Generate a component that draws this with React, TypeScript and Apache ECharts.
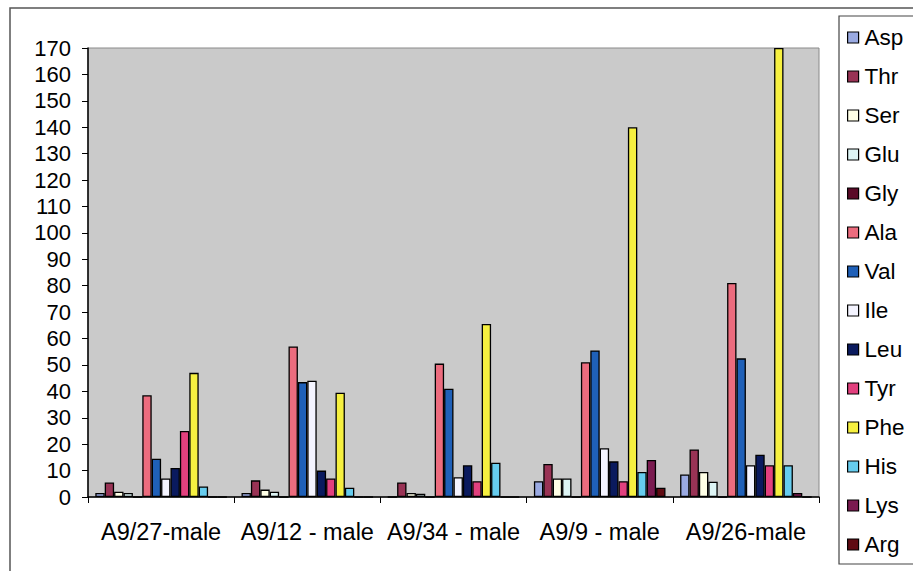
import React, { useEffect, useRef } from "react";
import * as echarts from "echarts";

// Sample groups along the x axis
const categories = ["A9/27-male", "A9/12 - male", "A9/34 - male", "A9/9 - male", "A9/26-male"];

// Amino acid content per sample
const asp = [1.5, 1.5, 0, 6, 8.5];
const thr = [5.5, 6.3, 5.5, 12.5, 18];
const ser = [2, 2.8, 1.5, 7, 9.5];
const glu = [1.5, 2, 1.2, 7, 5.8];
const gly = [0, 0, 0, 0, 0];
const ala = [38.5, 57, 50.5, 51, 81];
const val = [14.5, 43.5, 41, 55.5, 52.5];
const ile = [7, 44, 7.5, 18.5, 12];
const leu = [11, 10, 12, 13.5, 16];
const tyr = [25, 7, 6, 6, 12];
const phe = [47, 39.5, 65.5, 140, 170];
const his = [4, 3.5, 13, 9.5, 12];
const lys = [0, 0, 0, 14, 1.5];
const arg = [0, 0, 0, 3.5, 0];

const seriesNames = ["Asp", "Thr", "Ser", "Glu", "Gly", "Ala", "Val", "Ile", "Leu", "Tyr", "Phe", "His", "Lys", "Arg"];
const seriesValues = [asp, thr, ser, glu, gly, ala, val, ile, leu, tyr, phe, his, lys, arg];
const seriesColors = [
  "#9AAAE2", "#993355", "#FFFFE6", "#DDF4F4", "#5A0A28", "#EC6C7E", "#1F60B8",
  "#F4F4FF", "#0A1A5E", "#E2407E", "#F6F040", "#66CCEE", "#7A1A50", "#600A12",
];

// Value axis ticks
const yMin = 0;
const yMax = 170;
const yStep = 10;

const FONT = "'Liberation Sans', Arial, sans-serif";

export default function App() {
  const ref = useRef<HTMLDivElement>(null);

  useEffect(() => {
    if (!ref.current) return;
    const chart = echarts.init(ref.current, undefined, { renderer: "svg" });

    const series = seriesNames.map((name, i) => ({
      name,
      type: "bar" as const,
      data: seriesValues[i],
      barGap: "0%",
      barCategoryGap: "10%",
      itemStyle: { color: seriesColors[i], borderColor: "#000", borderWidth: 1.3 },
    }));

    chart.setOption({
      animation: false,
      backgroundColor: "#FFFFFF",
      textStyle: { fontFamily: FONT },
      grid: {
        left: 88,
        top: 48,
        right: 94,
        bottom: 74,
        show: true,
        backgroundColor: "#CACACA",
        borderColor: "#8A8A8A",
        borderWidth: 1,
      },
      legend: {
        orient: "vertical",
        left: 847,
        top: 26,
        padding: 0,
        itemWidth: 11,
        itemHeight: 11,
        itemGap: 16,
        icon: "rect",
        itemStyle: { borderColor: "#000", borderWidth: 1.2 },
        textStyle: { fontFamily: FONT, fontSize: 22.5, color: "#000", padding: [0, 0, 0, 1] },
        data: seriesNames,
      },
      xAxis: {
        type: "category",
        data: categories,
        axisLine: { lineStyle: { color: "#000", width: 1.5 } },
        axisTick: { show: true, length: 6, lineStyle: { color: "#000" } },
        axisLabel: { fontFamily: FONT, fontSize: 23.5, color: "#000", margin: 23, interval: 0 },
      },
      yAxis: {
        type: "value",
        min: yMin,
        max: yMax,
        interval: yStep,
        splitLine: { show: false },
        axisLine: { show: true, lineStyle: { color: "#000", width: 1.5 } },
        axisTick: { show: true, length: 6, lineStyle: { color: "#000" } },
        axisLabel: { fontFamily: FONT, fontSize: 22, color: "#000", margin: 17 },
      },
      graphic: [
        {
          type: "rect",
          shape: { x: 10, y: 8, width: 930, height: 600 },
          style: { fill: "none", stroke: "#555", lineWidth: 1.5 },
          silent: true,
        },
        {
          type: "rect",
          shape: { x: 839, y: 16, width: 100, height: 548 },
          style: { fill: "none", stroke: "#444", lineWidth: 1.2 },
          silent: true,
        },
      ],
      series,
    });

    return () => chart.dispose();
  }, []);

  return (
    <div
      ref={ref}
      style={{ position: "absolute", left: 0, top: 0, width: 913, height: 571 }}
    />
  );
}
